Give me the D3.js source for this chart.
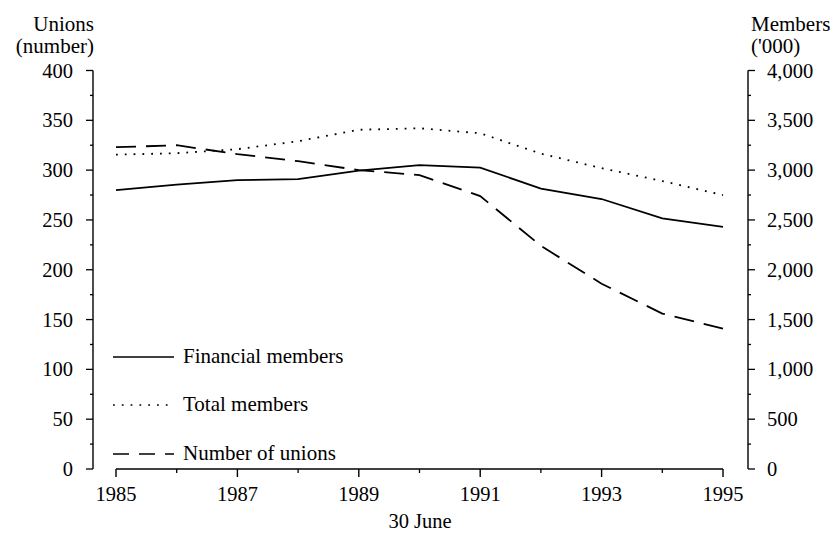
<!DOCTYPE html>
<html>
<head>
<meta charset="utf-8">
<script src="https://cdn.jsdelivr.net/npm/d3@7/dist/d3.min.js"></script>
<style>
body{margin:0;background:#fff;}
svg text{font-family:"Liberation Serif","DejaVu Serif",serif;fill:#000;}
</style>
</head>
<body>
<svg id="c" width="834" height="535"></svg>
<script>
const years = [1985,1986,1987,1988,1989,1990,1991,1992,1993,1994,1995];
// members in '000 (right axis)
const financialMembers = [2800,2855,2900,2910,2995,3050,3025,2815,2710,2515,2430];
const totalMembers     = [3155,3170,3210,3290,3405,3420,3370,3165,3020,2890,2750];
// unions (left axis)
const numberOfUnions   = [323,325,316,309,300,295,274,224,186,156,141];
const xTickYears = [1985,1987,1989,1991,1993,1995];
const leftTicks = [0,50,100,150,200,250,300,350,400];
const rightTicks = [0,500,1000,1500,2000,2500,3000,3500,4000];

const svg = d3.select("#c");
const x = d3.scaleLinear().domain([1985,1995]).range([116,723]);
const yL = d3.scaleLinear().domain([0,400]).range([469,70.5]);
const yR = d3.scaleLinear().domain([0,4000]).range([469,70.5]);

const fmt = d3.format(",");
const TICK_FS = 20.5, TITLE_FS = 21;

// Left axis
const gL = svg.append("g").attr("transform","translate(93,0)");
gL.append("line").attr("x1",0).attr("x2",0).attr("y1",yL(400)).attr("y2",yL(0)).attr("stroke","#000").attr("stroke-width",1.4);
gL.selectAll(".mj").data(leftTicks).join("line").attr("x1",-7).attr("x2",0).attr("y1",d=>yL(d)).attr("y2",d=>yL(d)).attr("stroke","#000").attr("stroke-width",1.3);
gL.selectAll(".mn").data(d3.range(25,400,50)).join("line").attr("x1",-3).attr("x2",0).attr("y1",d=>yL(d)).attr("y2",d=>yL(d)).attr("stroke","#000").attr("stroke-width",1.3);
gL.selectAll("text").data(leftTicks).join("text").attr("x",-20).attr("y",d=>yL(d)+7).attr("text-anchor","end").attr("font-size",TICK_FS).text(d=>d);

// Right axis
const gR = svg.append("g").attr("transform","translate(748,0)");
gR.append("line").attr("x1",0).attr("x2",0).attr("y1",yR(4000)).attr("y2",yR(0)).attr("stroke","#000").attr("stroke-width",1.4);
gR.selectAll(".mj").data(rightTicks).join("line").attr("x1",0).attr("x2",7).attr("y1",d=>yR(d)).attr("y2",d=>yR(d)).attr("stroke","#000").attr("stroke-width",1.3);
gR.selectAll(".mn").data(d3.range(250,4000,500)).join("line").attr("x1",0).attr("x2",3).attr("y1",d=>yR(d)).attr("y2",d=>yR(d)).attr("stroke","#000").attr("stroke-width",1.3);
gR.selectAll("text").data(rightTicks).join("text").attr("x",19).attr("y",d=>yR(d)+7).attr("text-anchor","start").attr("font-size",TICK_FS).text(d=>fmt(d));

// X axis
const gX = svg.append("g");
gX.append("line").attr("x1",x(1985)).attr("x2",x(1995)).attr("y1",469).attr("y2",469).attr("stroke","#000").attr("stroke-width",1.4);
gX.selectAll(".mj").data(xTickYears).join("line").attr("x1",d=>x(d)).attr("x2",d=>x(d)).attr("y1",469).attr("y2",477).attr("stroke","#000").attr("stroke-width",1.4);
gX.selectAll(".mn").data(years.filter(d=>!xTickYears.includes(d))).join("line").attr("x1",d=>x(d)).attr("x2",d=>x(d)).attr("y1",469).attr("y2",473).attr("stroke","#000").attr("stroke-width",1.3);
gX.selectAll("text").data(xTickYears).join("text").attr("x",d=>x(d)).attr("y",501).attr("text-anchor","middle").attr("font-size",TICK_FS).text(d=>d);
svg.append("text").attr("x",420).attr("y",528).attr("text-anchor","middle").attr("font-size",TICK_FS).text("30 June");

// Axis titles
svg.append("text").attr("x",94).attr("y",31).attr("text-anchor","end").attr("font-size",TITLE_FS).text("Unions");
svg.append("text").attr("x",94).attr("y",53).attr("text-anchor","end").attr("font-size",TITLE_FS).text("(number)");
svg.append("text").attr("x",751).attr("y",31).attr("text-anchor","start").attr("font-size",TITLE_FS).text("Members");
svg.append("text").attr("x",751).attr("y",53).attr("text-anchor","start").attr("font-size",TITLE_FS).text("('000)");

// Lines
const lineR = d3.line().x((d,i)=>x(years[i])).y(d=>yR(d));
const lineL = d3.line().x((d,i)=>x(years[i])).y(d=>yL(d));
svg.append("path").attr("d",lineR(financialMembers)).attr("fill","none").attr("stroke","#000").attr("stroke-width",1.8);
svg.append("path").attr("d",lineR(totalMembers)).attr("fill","none").attr("stroke","#000").attr("stroke-width",1.8).attr("stroke-dasharray","1.8,7");
svg.append("path").attr("d",lineL(numberOfUnions)).attr("fill","none").attr("stroke","#000").attr("stroke-width",1.8).attr("stroke-dasharray","20,10");

// Legend
const legend = [
  {label:"Financial members", dash:null, y:357},
  {label:"Total members", dash:"1.8,7", y:405},
  {label:"Number of unions", dash:"16,10", y:454}
];
const gLeg = svg.append("g");
legend.forEach(l=>{
  gLeg.append("line").attr("x1",113).attr("x2",174).attr("y1",l.y).attr("y2",l.y).attr("stroke","#000").attr("stroke-width",1.5).attr("stroke-dasharray",l.dash);
  gLeg.append("text").attr("x",183).attr("y",l.y+6).attr("font-size",TITLE_FS).text(l.label);
});
</script>
</body>
</html>
